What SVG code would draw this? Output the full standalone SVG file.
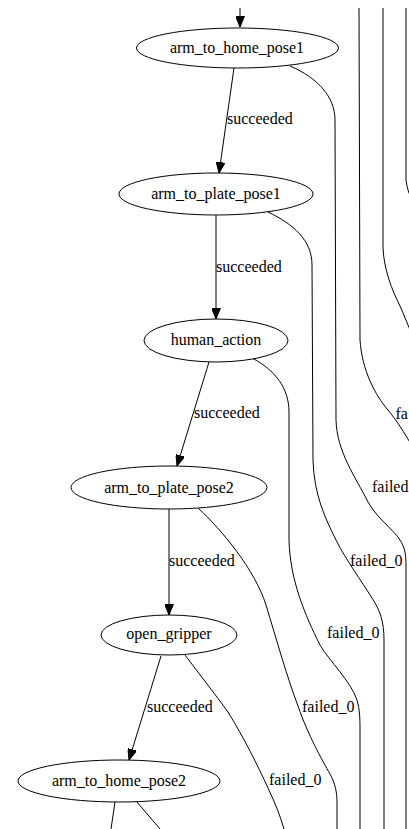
<svg xmlns="http://www.w3.org/2000/svg" width="409" height="829" viewBox="0 0 409 829">
<style>
  .node ellipse { fill: #ffffff; stroke: #000000; stroke-width: 1; }
  .node text { font-family: "Liberation Serif", "Times New Roman", serif; font-size: 16px; fill: #000000; text-anchor: middle; }
  .edges path { fill: none; stroke: #000000; stroke-width: 1; }
  .edges path.arr { marker-end: url(#ah); }
  .lbl { font-family: "Liberation Serif", "Times New Roman", serif; font-size: 16px; fill: #000000; }
</style>
<defs>
  <marker id="ah" markerUnits="userSpaceOnUse" markerWidth="12" markerHeight="9" refX="11" refY="4.5" orient="auto">
    <path d="M0,0 L11,4.5 L0,9 z" fill="#000000" stroke="#000000" stroke-width="1"/>
  </marker>
</defs>
<rect x="0" y="0" width="409" height="829" fill="#ffffff"/>

<g id="connectors" class="edges">
  <path class="arr" d="M240,8 L240,27"/>
  <path class="arr" d="M234,68 L219,173"/>
  <path class="arr" d="M216,215 L216,319"/>
  <path class="arr" d="M209,362 L177,466"/>
  <path class="arr" d="M169,509 L169,615"/>
  <path class="arr" d="M161,656 L129,760"/>
  <path d="M115,802 L111,829"/>
  <path d="M137,802 L160,829"/>

  <path d="M290,66 C318,78 335,97 335,120 L336,420 C337,452 355,476 368,502 C379,522 399,532 404,548 C406,555 406,560 406,568 L406,829"/>
  <path d="M268,212 C293,224 312,240 312,265 L313,460 C314,495 325,518 337,542 C345,558 362,582 372,598 C380,610 384,622 384,640 L384,829"/>
  <path d="M252,358 C275,370 289,388 289,412 L289,540 C290,580 305,615 320,645 C330,662 350,680 357,700 C360,710 360,720 360,730 L360,829"/>
  <path d="M198,508 C222,530 255,570 266,605 C276,638 288,680 298,706 C308,735 322,760 330,774 C335,783 337,792 337,802 L337,829"/>
  <path d="M185,655 C200,675 215,694 228,712 C244,738 258,766 268,788 C275,803 280,815 284,829"/>

  <path d="M359,8 L360,340 C362,370 375,395 388,410 C397,421 404,432 412,446"/>
  <path d="M383,8 L383,248 C384,270 392,290 400,306 C404,315 408,325 412,335"/>
  <path d="M406,8 L406,180 C407,188 409,194 412,200"/>
</g>

<g id="edge-labels">
  <text class="lbl" x="227" y="124">succeeded</text>
  <text class="lbl" x="216" y="272">succeeded</text>
  <text class="lbl" x="194" y="418">succeeded</text>
  <text class="lbl" x="169" y="566">succeeded</text>
  <text class="lbl" x="147" y="712">succeeded</text>
  <text class="lbl" x="395.5" y="419">fa</text>
  <text class="lbl" x="372" y="492">failed</text>
  <text class="lbl" x="350" y="566">failed_0</text>
  <text class="lbl" x="327" y="638">failed_0</text>
  <text class="lbl" x="302" y="712">failed_0</text>
  <text class="lbl" x="269" y="785">failed_0</text>
</g>

<g id="arm_to_home_pose1" class="node">
  <ellipse cx="237.5" cy="48" rx="101" ry="20"/>
  <text x="237" y="53">arm_to_home_pose1</text>
</g>
<g id="arm_to_plate_pose1" class="node">
  <ellipse cx="216" cy="194" rx="97" ry="21"/>
  <text x="216" y="199">arm_to_plate_pose1</text>
</g>
<g id="human_action" class="node">
  <ellipse cx="216" cy="340.5" rx="72" ry="21.5"/>
  <text x="216" y="345">human_action</text>
</g>
<g id="arm_to_plate_pose2" class="node">
  <ellipse cx="169" cy="487.5" rx="98" ry="21.5"/>
  <text x="169" y="493">arm_to_plate_pose2</text>
</g>
<g id="open_gripper" class="node">
  <ellipse cx="169" cy="635" rx="68" ry="20"/>
  <text x="169" y="639">open_gripper</text>
</g>
<g id="arm_to_home_pose2" class="node">
  <ellipse cx="119" cy="781" rx="101" ry="21"/>
  <text x="119" y="786">arm_to_home_pose2</text>
</g>
</svg>
